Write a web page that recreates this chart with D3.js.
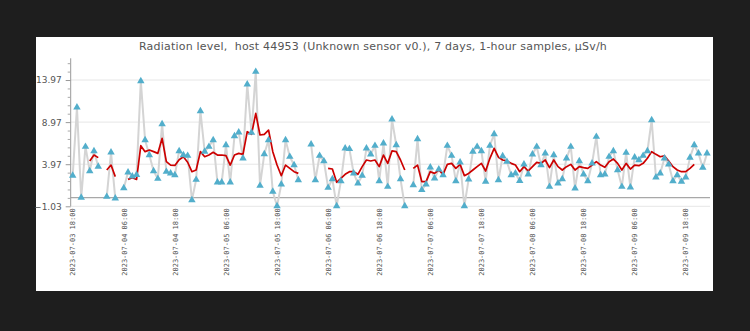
<!DOCTYPE html>
<html><head><meta charset="utf-8">
<script src="https://cdn.jsdelivr.net/npm/d3@7/dist/d3.min.js"></script>
<style>
html,body{margin:0;padding:0;background:#1e1e1e;}
svg{display:block;}
</style></head>
<body>
<svg id="c" width="750" height="331"></svg>
<script>
const title = "Radiation level,  host 44953 (Unknown sensor v0.), 7 days, 1-hour samples, µSv/h";
const startTime = "2023-07-03T18:00:00Z";
// hourly samples (µSv/h), null = missing
const samples = [
 2.61,10.72,0.0,6.05,3.16,5.54,3.68,null,0.11,5.38,
 -0.08,null,1.14,3.0,2.53,2.7,13.85,6.84,5.06,3.16,
 2.25,8.74,3.08,2.88,2.69,5.54,5.06,4.98,-0.28,2.13,
 10.29,5.46,6.05,6.84,1.82,1.82,6.25,1.82,7.32,7.75,
 4.67,13.46,7.72,14.96,1.42,5.18,6.84,0.71,-1.0,1.58,
 6.84,4.86,3.87,2.09,null,null,6.33,2.09,4.98,4.35,
 1.18,2.21,-1.0,1.97,5.85,5.78,2.88,1.70,2.61,5.85,
 5.14,6.17,1.97,6.45,1.30,9.3,6.25,2.21,-1.0,null,
 1.50,6.96,0.91,1.58,3.6,2.29,3.36,2.69,6.17,4.98,
 1.97,4.19,-1.0,2.17,5.46,6.05,5.54,1.90,6.17,7.56,
 2.09,4.94,4.27,2.69,2.88,2.0,3.95,2.77,5.14,6.05,
 3.87,5.26,1.30,5.06,1.70,2.21,4.67,6.05,1.1,4.35,
 2.77,1.97,4.07,7.24,2.69,2.77,4.86,5.54,3.28,1.30,
 5.34,1.22,4.79,4.47,4.98,5.54,9.22,2.41,2.88,4.67,
 3.95,1.97,2.69,1.90,2.41,4.75,6.25,5.26,3.56,5.26
];
// moving average
const average = [
 null,null,null,null,4.35,5.06,4.75,null,3.28,3.87,
 2.49,null,null,2.17,2.37,2.17,6.17,5.46,5.66,5.46,
 5.26,7.04,4.27,3.87,3.82,4.5,4.86,4.2,3.08,3.28,
 5.46,4.86,5.06,5.38,5.06,5.06,4.98,3.87,5.06,5.26,
 5.14,7.83,7.52,10.01,7.44,7.52,8.03,5.46,3.87,2.6,
 3.87,3.48,3.08,2.88,null,null,null,null,null,null,
 3.48,3.4,1.82,2.29,2.77,3.08,3.08,2.77,3.68,4.47,
 4.35,4.47,3.68,5.06,4.07,5.55,5.46,4.47,3.28,null,
 3.48,3.87,1.9,1.9,3.08,2.88,3.28,2.77,3.95,4.07,
 3.48,3.95,2.61,2.88,3.28,3.68,4.07,3.16,4.67,5.85,
 4.8,4.47,4.35,4.07,3.87,3.08,3.68,3.16,3.68,4.19,
 4.07,4.47,3.56,4.47,3.68,3.28,3.68,3.95,3.28,3.68,
 3.56,3.48,3.87,4.27,3.87,3.6,4.27,4.59,4.07,3.28,
 4.07,3.4,3.87,3.8,4.07,4.67,5.46,5.14,4.86,4.98,
 4.35,3.68,3.28,3.08,3.08,3.48,3.95,null,null,null
];
const yTicks = [-1.03, 3.97, 8.97, 13.97];
const yMinor = [-0.03,0.97,1.97,2.97,4.97,5.97,6.97,7.97,9.97,10.97,11.97,12.97,14.97,15.97];
const xTickLabels = ["2023-07-03 18:00","2023-07-04 06:00","2023-07-04 18:00","2023-07-05 06:00",
  "2023-07-05 18:00","2023-07-06 06:00","2023-07-06 18:00","2023-07-07 06:00","2023-07-07 18:00",
  "2023-07-08 06:00","2023-07-08 18:00","2023-07-09 06:00","2023-07-09 18:00"];

const svg = d3.select("#c");
const t0 = new Date(startTime);
const hour = 3600e3;
const times = samples.map((_, i) => new Date(+t0 + i * hour));

const L = 70.7, R = 710, T = 58.3, B = 206.3;
const x = d3.scaleUtc()
  .domain([new Date(+t0 - 0.47 * hour), new Date(+t0 + 149.7 * hour)])
  .range([L, R]);
const y = d3.scaleLinear().domain([-1.03, 16.55]).range([B, T]);

// white panel
svg.append("rect").attr("x", 36).attr("y", 37).attr("width", 677).attr("height", 254).attr("fill", "#fff");

// gridlines
svg.append("g").selectAll("line").data(yTicks).join("line")
  .attr("x1", L).attr("x2", R).attr("y1", d => y(d)).attr("y2", d => y(d))
  .attr("stroke", "#e6e6e6").attr("stroke-width", 1);
// zero line
svg.append("line").attr("x1", L).attr("x2", R).attr("y1", y(0)).attr("y2", y(0))
  .attr("stroke", "#a8a8a8").attr("stroke-width", 1.2);

// y axis
const yAxis = d3.axisLeft(y).tickValues(yTicks).tickFormat(d3.format(".2f")).tickSize(5).tickPadding(4);
const ga = svg.append("g").attr("transform", `translate(${L},0)`).call(yAxis);
ga.select(".domain").attr("stroke", "#999").attr("d", `M0,${T}V${B}`);
ga.selectAll(".tick line").attr("stroke", "#999");
ga.selectAll("text").attr("fill", "#555").style("font-family", "DejaVu Sans").style("font-size", "9px");
const gm = svg.append("g").attr("transform", `translate(${L},0)`)
  .call(d3.axisLeft(y).tickValues(yMinor).tickSize(3).tickFormat(""));
gm.select(".domain").remove();
gm.selectAll(".tick line").attr("stroke", "#aaa");

// x axis labels
const parse = d3.utcParse("%Y-%m-%d %H:%M");
const fmt = d3.utcFormat("%Y-%m-%d %H:%M");
const xTicks = xTickLabels.map(parse);
const gx = svg.append("g").attr("transform", `translate(0,${B})`)
  .call(d3.axisBottom(x).tickValues(xTicks).tickFormat(fmt).tickSize(0).tickPadding(0));
gx.select(".domain").remove();
gx.selectAll(".tick text")
  .attr("transform", "translate(0,2) rotate(-90)")
  .attr("text-anchor", "end").attr("dy", "0.32em").attr("dx", 0).attr("y", 0)
  .attr("fill", "#555").style("font-family", "DejaVu Sans Mono").style("font-size", "7px");

// title
svg.append("text").attr("x", 373).attr("y", 50).attr("text-anchor", "middle")
  .attr("fill", "#555").style("font-family", "DejaVu Sans").style("font-size", "11px")
  .style("letter-spacing", "0.2px")
  .attr("xml:space", "preserve").text(title);

// sample line
const line = d3.line().defined(d => d[1] != null).x(d => x(d[0])).y(d => y(d[1]));
const sData = samples.map((v, i) => [times[i], v]);
const aData = average.map((v, i) => [times[i], v]);
svg.append("path").datum(sData).attr("d", line).attr("fill", "none")
  .attr("stroke", "#d4d4d4").attr("stroke-width", 2).attr("stroke-linejoin", "round");

// average line
svg.append("path").datum(aData).attr("d", line).attr("fill", "none")
  .attr("stroke", "#cc0000").attr("stroke-width", 1.7).attr("stroke-linejoin", "round");

// markers
svg.append("g").selectAll("path").data(sData.filter(d => d[1] != null)).join("path")
  .attr("transform", d => `translate(${x(d[0])},${y(d[1])})`)
  .attr("d", d3.symbol(d3.symbolTriangle, 24))
  .attr("fill", "#52aecb");
</script>
</body></html>
